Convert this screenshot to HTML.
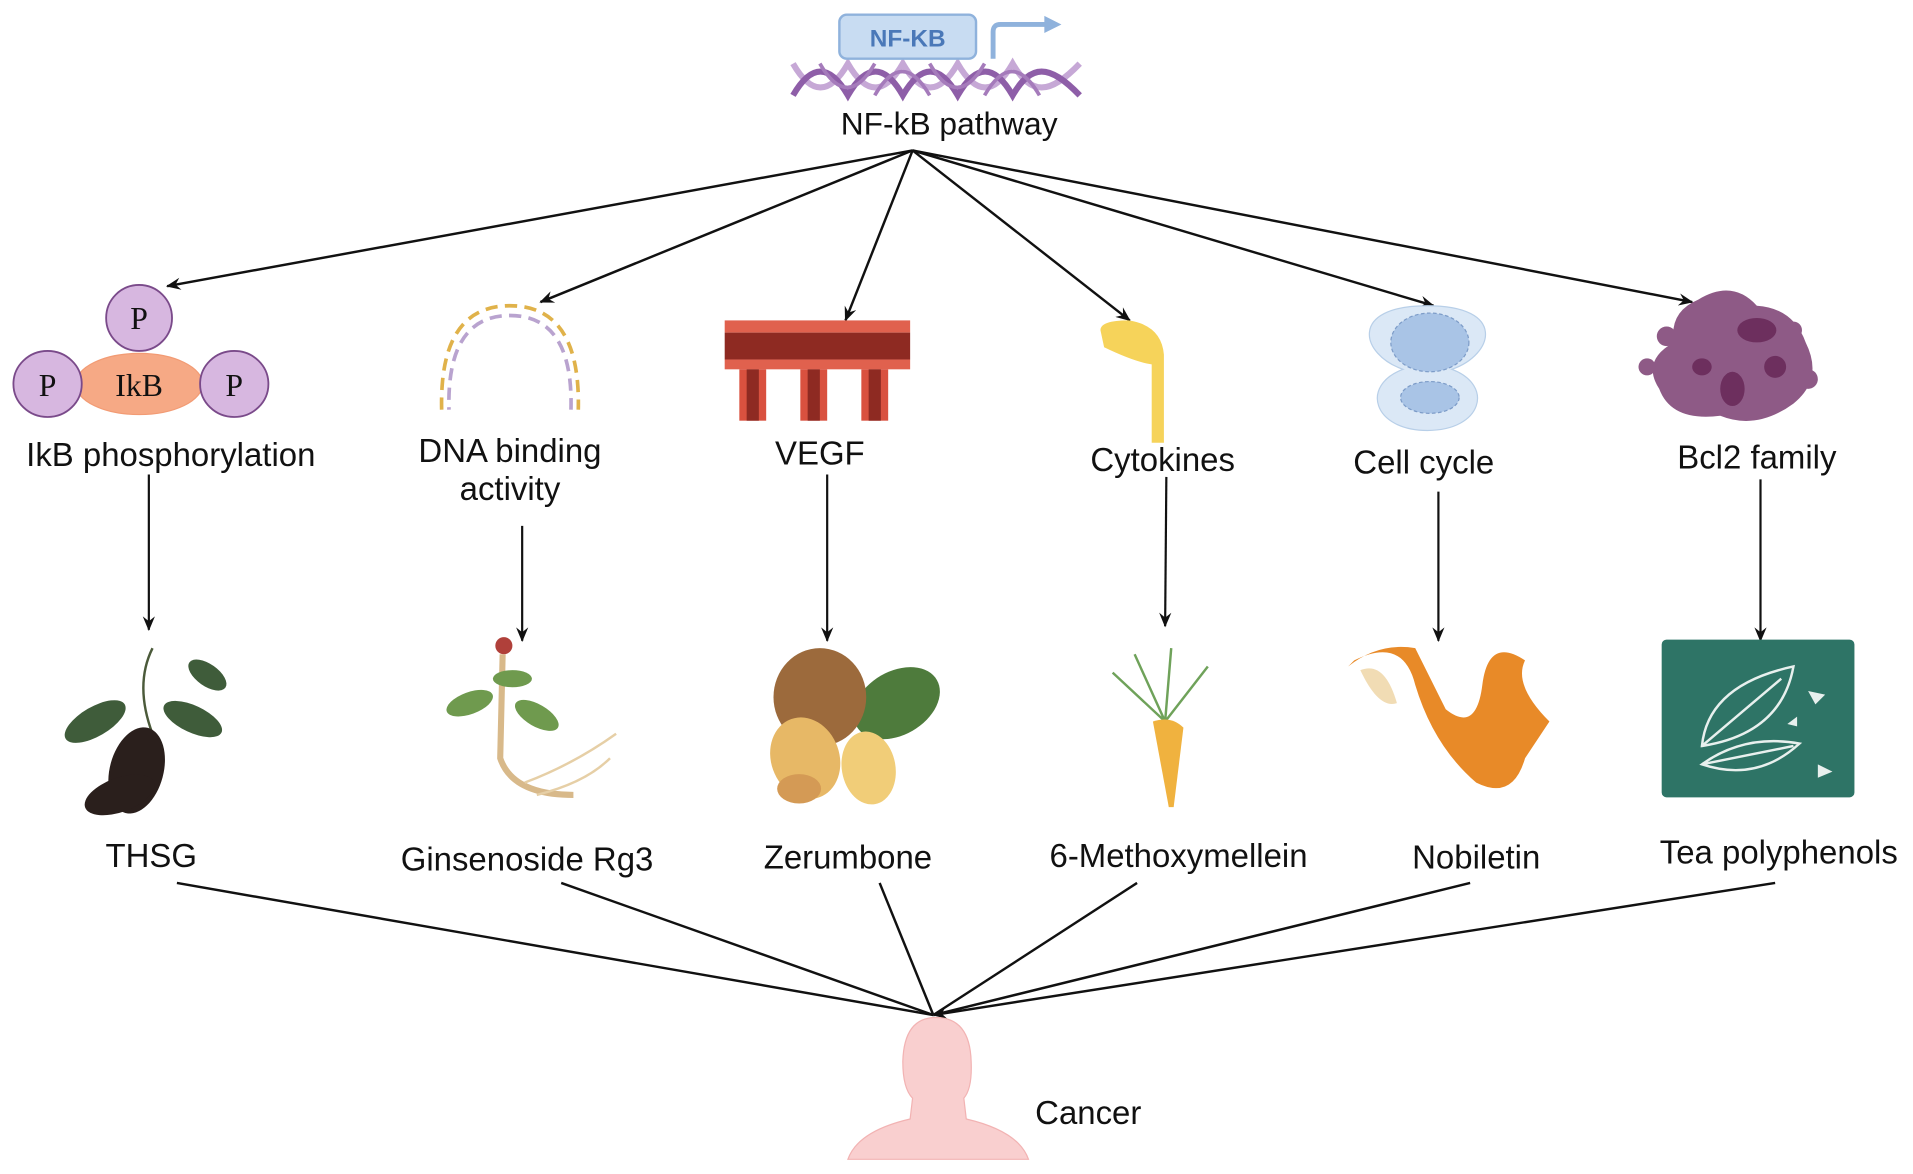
<!DOCTYPE html>
<html><head><meta charset="utf-8"><style>
html,body{margin:0;padding:0;background:#fff;}
svg{display:block}
text{font-family:"Liberation Sans",sans-serif;fill:#111;}
</style></head><body>
<svg width="1913" height="1174" viewBox="0 0 1568 960" preserveAspectRatio="none" xmlns="http://www.w3.org/2000/svg">
<defs>
<marker id="a" markerWidth="12" markerHeight="10" refX="11" refY="5" orient="auto" markerUnits="userSpaceOnUse">
<path d="M0,0 L12,5 L0,10 L4,5 Z" fill="#111"/></marker>
</defs>
<g fill="none" stroke-width="5">
<path d="M650,52 C665,78 680,78 695,52 C710,78 725,78 740,52 C755,78 770,78 785,52 C800,78 815,78 830,52 C845,78 860,78 885,52" stroke="#c6a8d6"/>
<path d="M650,78 C665,52 680,52 695,78 C710,52 725,52 740,78 C755,52 770,52 785,78 C800,52 815,52 830,78 C845,52 860,52 885,78" stroke="#8e5ea8"/>
<path d="M672,52 C687,78 702,78 717,52 M717,78 C732,52 747,52 762,78 M762,52 C777,78 792,78 807,52 M807,78 C822,52 837,52 852,78" stroke="#a57bbb" stroke-width="3"/>
</g>
<rect x="688" y="12" width="112" height="36" rx="6" fill="#c8dcf2" stroke="#8fb2dc" stroke-width="2"/>
<text x="744" y="38" text-anchor="middle" font-size="20" font-weight="bold" style="fill:#4a78b8">NF-KB</text>
<path d="M814,48 L814,26 Q814,20 820,20 L858,20" stroke="#8fb2dc" stroke-width="4" fill="none"/>
<path d="M856,13 L870,20 L856,27 Z" fill="#8fb2dc"/>
<text x="778" y="110" text-anchor="middle" font-size="26">NF-kB pathway</text>

<g stroke="#111" stroke-width="2" marker-end="url(#a)">
<line x1="748" y1="123" x2="137" y2="234"/>
<line x1="748" y1="123" x2="443" y2="247"/>
<line x1="748" y1="123" x2="693" y2="262"/>
<line x1="748" y1="123" x2="926" y2="262"/>
<line x1="748" y1="123" x2="1175" y2="250"/>
<line x1="748" y1="123" x2="1387" y2="247"/>
</g>

<ellipse cx="114" cy="314" rx="52" ry="25" fill="#f6a985" stroke="#f29b74"/>
<g fill="#d7b7e0" stroke="#7a4a8a" stroke-width="1.5">
<circle cx="114" cy="260" r="27"/><ellipse cx="39" cy="314" rx="28" ry="27"/><ellipse cx="192" cy="314" rx="28" ry="27"/>
</g>
<g font-size="26" text-anchor="middle">
<text x="114" y="269" style="font-family:'Liberation Serif',serif">P</text>
<text x="39" y="324" style="font-family:'Liberation Serif',serif">P</text>
<text x="192" y="324" style="font-family:'Liberation Serif',serif">P</text>
<text x="114" y="324" style="font-family:'Liberation Serif',serif">IkB</text>
</g>
<g fill="none" stroke-width="3">
<path d="M362,335 Q360,250 418,250 Q476,250 474,335" stroke="#e0b24a" stroke-dasharray="10 6"/>
<path d="M368,335 Q366,258 418,258 Q470,258 468,335" stroke="#b9a3cf" stroke-dasharray="10 6" stroke-dashoffset="8"/>
</g>
<rect x="594" y="262" width="152" height="10" fill="#e0614e"/>
<rect x="594" y="272" width="152" height="22" fill="#8e2a22"/>
<rect x="594" y="294" width="152" height="8" fill="#e0614e"/>
<g fill="#d9513f"><rect x="606" y="302" width="22" height="42"/><rect x="656" y="302" width="22" height="42"/><rect x="706" y="302" width="22" height="42"/></g>
<g fill="#8e2a22"><rect x="612" y="302" width="10" height="42"/><rect x="662" y="302" width="10" height="42"/><rect x="712" y="302" width="10" height="42"/></g>
<path d="M902,270 Q902,262 925,262 Q952,266 954,290 L954,362 L944,362 L944,298 Q930,296 905,284 Z" fill="#f6d35a"/>
<path d="M1170,250 C1235,250 1225,290 1190,302 C1225,315 1215,352 1170,352 C1125,352 1115,315 1150,302 C1115,290 1105,250 1170,250 Z" fill="#dbe8f6" stroke="#b8cfe8"/>
<ellipse cx="1172" cy="280" rx="32" ry="24" fill="#a9c4e6" stroke="#7d9cc8" stroke-dasharray="3 2"/>
<ellipse cx="1172" cy="325" rx="24" ry="13" fill="#a9c4e6" stroke="#7d9cc8" stroke-dasharray="3 2"/>
<g fill="#8e5a86">
<path d="M1392,245 Q1420,228 1440,250 Q1470,252 1480,280 Q1495,310 1470,330 Q1440,352 1410,340 Q1370,345 1360,318 Q1345,295 1372,280 Q1368,255 1392,245 Z"/>
<circle cx="1366" cy="275" r="8"/><circle cx="1470" cy="270" r="7"/><circle cx="1350" cy="300" r="7"/><circle cx="1482" cy="310" r="8"/>
</g>
<g fill="#6d2f5e"><ellipse cx="1440" cy="270" rx="16" ry="10"/><ellipse cx="1420" cy="318" rx="10" ry="14"/><ellipse cx="1395" cy="300" rx="8" ry="7"/><circle cx="1455" cy="300" r="9"/></g>

<g font-size="27" text-anchor="middle">
<text x="140" y="381">IkB phosphorylation</text>
<text x="418" y="378">DNA binding</text>
<text x="418" y="409">activity</text>
<text x="672" y="380">VEGF</text>
<text x="953" y="385">Cytokines</text>
<text x="1167" y="387">Cell cycle</text>
<text x="1440" y="383">Bcl2 family</text>
</g>
<g stroke="#111" stroke-width="1.8" marker-end="url(#a)">
<line x1="122" y1="388" x2="122" y2="515"/>
<line x1="428" y1="430" x2="428" y2="524"/>
<line x1="678" y1="388" x2="678" y2="524"/>
<line x1="956" y1="390" x2="955" y2="512"/>
<line x1="1179" y1="402" x2="1179" y2="524"/>
<line x1="1443" y1="392" x2="1443" y2="524"/>
</g>

<path d="M125,530 Q110,560 125,600" stroke="#4b5a3a" stroke-width="2" fill="none"/>
<ellipse cx="78" cy="590" rx="28" ry="12" fill="#3f5c3a" transform="rotate(-30 78 590)"/>
<ellipse cx="158" cy="588" rx="26" ry="11" fill="#3f5c3a" transform="rotate(25 158 588)"/>
<ellipse cx="170" cy="552" rx="18" ry="9" fill="#3f5c3a" transform="rotate(35 170 552)"/>
<ellipse cx="112" cy="630" rx="22" ry="36" fill="#2a1f1c" transform="rotate(15 112 630)"/>
<ellipse cx="98" cy="650" rx="30" ry="14" fill="#2a1f1c" transform="rotate(-20 98 650)"/>
<circle cx="413" cy="528" r="7" fill="#b0403a"/>
<path d="M412,535 L410,620 Q420,650 470,650" stroke="#d8b98a" stroke-width="5" fill="none"/>
<g fill="#6f9a4e"><ellipse cx="385" cy="575" rx="20" ry="9" transform="rotate(-20 385 575)"/><ellipse cx="440" cy="585" rx="20" ry="9" transform="rotate(30 440 585)"/><ellipse cx="420" cy="555" rx="16" ry="7"/></g>
<path d="M430,640 Q470,625 505,600 M440,650 Q480,640 500,620" stroke="#e6cfa6" stroke-width="2" fill="none"/>
<ellipse cx="735" cy="575" rx="38" ry="26" fill="#4e7b3c" transform="rotate(-30 735 575)"/>
<ellipse cx="672" cy="570" rx="38" ry="40" fill="#9c6a3c"/>
<ellipse cx="660" cy="620" rx="28" ry="34" fill="#e7b866" transform="rotate(-20 660 620)"/>
<ellipse cx="712" cy="628" rx="22" ry="30" fill="#f1cd78" transform="rotate(-10 712 628)"/>
<ellipse cx="655" cy="645" rx="18" ry="12" fill="#d49a55"/>
<g stroke="#6fa25a" stroke-width="2" fill="none"><path d="M955,590 L930,535 M955,590 L960,530 M955,590 L990,545 M955,590 L912,550"/></g>
<path d="M945,590 Q960,585 970,595 L962,660 L958,660 Z" fill="#f0b23f"/>
<path d="M1110,540 Q1150,520 1160,560 Q1175,610 1210,640 Q1240,655 1250,620 L1270,590 Q1240,560 1250,540 Q1220,520 1215,560 Q1210,600 1185,580 Q1170,550 1160,530 Q1130,525 1105,545 Z" fill="#e88a28"/>
<path d="M1115,548 Q1135,540 1145,575 Q1130,580 1115,548 Z" fill="#f1dcb4"/>
<rect x="1362" y="523" width="158" height="129" rx="4" fill="#2e7466"/>
<g stroke="#e8f0ee" stroke-width="2" fill="none">
<path d="M1395,610 Q1400,560 1470,545 Q1460,600 1395,610 Z M1395,610 L1460,555"/>
<path d="M1395,625 Q1430,600 1475,608 Q1440,640 1395,625 Z M1395,625 L1470,610"/>
</g>
<g fill="#e8f0ee"><path d="M1482,565 l14,3 -8,8z"/><path d="M1490,625 l12,6 -12,5z"/><path d="M1465,592 l8,-6 0,8z"/></g>

<g font-size="27" text-anchor="middle">
<text x="124" y="709">THSG</text>
<text x="432" y="712">Ginsenoside Rg3</text>
<text x="695" y="710">Zerumbone</text>
<text x="966" y="709">6-Methoxymellein</text>
<text x="1210" y="710">Nobiletin</text>
<text x="1458" y="706">Tea polyphenols</text>
<text x="892" y="919">Cancer</text>
</g>
<g stroke="#111" stroke-width="2">
<line x1="145" y1="722" x2="765" y2="830"/>
<line x1="460" y1="722" x2="765" y2="830"/>
<line x1="721" y1="722" x2="765" y2="830"/>
<line x1="932" y1="722" x2="765" y2="830"/>
<line x1="1205" y1="722" x2="765" y2="830"/>
<line x1="1455" y1="722" x2="765" y2="830" marker-end="url(#a)"/>
</g>
<path d="M767,832 Q795,832 796,868 Q797,890 790,898 L792,915 Q835,925 843,948 L695,948 Q703,925 746,915 L748,898 Q740,890 740,868 Q741,832 767,832 Z" fill="#f9cfcf" stroke="#f2b3b3"/>
</svg>
</body></html>
